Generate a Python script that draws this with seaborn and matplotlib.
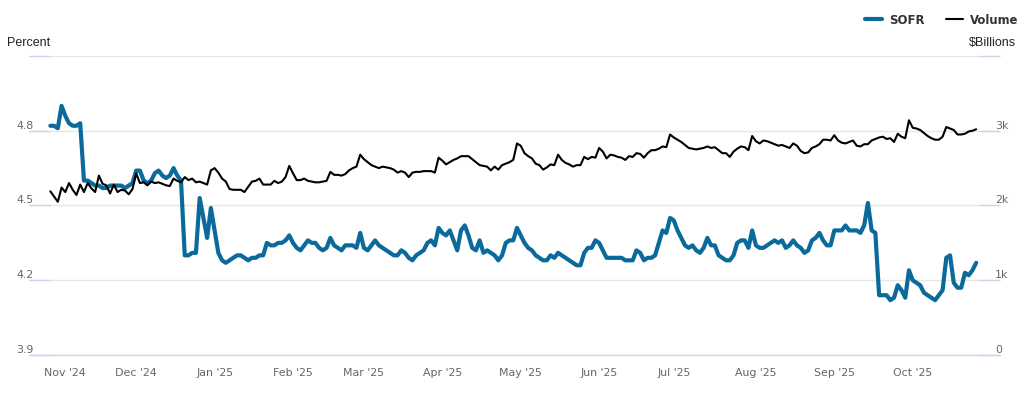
import numpy as np
import pandas as pd
import matplotlib
matplotlib.use('Agg')
import matplotlib.pyplot as plt
from matplotlib.lines import Line2D
import seaborn as sns

# Daily SOFR (percent) and volume ($ billions), one value per business day
start_date = '2024-10-28'
end_date = '2025-10-27'
holidays = ['2024-11-11', '2024-11-28', '2024-12-25', '2025-01-01', '2025-01-20',
            '2025-02-17', '2025-04-18', '2025-05-26', '2025-06-19', '2025-07-04',
            '2025-09-01', '2025-10-13']

sofr = [
    4.82, 4.82, 4.81, 4.90, 4.86, 4.83, 4.82, 4.82, 4.83, 4.60,
    4.60, 4.59, 4.58, 4.58, 4.57, 4.57, 4.58, 4.58, 4.58, 4.58,
    4.57, 4.58, 4.59, 4.64, 4.64, 4.60, 4.59, 4.60, 4.63, 4.64,
    4.62, 4.61, 4.62, 4.65, 4.62, 4.60, 4.30, 4.30, 4.31, 4.31,
    4.53, 4.45, 4.37, 4.49, 4.40, 4.31, 4.28, 4.27, 4.28, 4.29,
    4.30, 4.30, 4.29, 4.28, 4.29, 4.29, 4.30, 4.30, 4.35, 4.34,
    4.34, 4.35, 4.35, 4.36, 4.38, 4.35, 4.33, 4.32, 4.34, 4.36,
    4.35, 4.35, 4.33, 4.32, 4.33, 4.37, 4.34, 4.33, 4.32, 4.34,
    4.34, 4.34, 4.33, 4.39, 4.33, 4.32, 4.34, 4.36, 4.34, 4.33,
    4.32, 4.31, 4.30, 4.30, 4.32, 4.31, 4.29, 4.28, 4.30, 4.31,
    4.32, 4.35, 4.36, 4.34, 4.41, 4.39, 4.38, 4.40, 4.36, 4.32,
    4.40, 4.42, 4.38, 4.33, 4.32, 4.36, 4.31, 4.32, 4.31, 4.30,
    4.28, 4.30, 4.35, 4.36, 4.36, 4.41, 4.38, 4.35, 4.33, 4.32,
    4.30, 4.29, 4.28, 4.28, 4.30, 4.29, 4.31, 4.30, 4.29, 4.28,
    4.27, 4.26, 4.26, 4.31, 4.33, 4.33, 4.36, 4.35, 4.32, 4.29,
    4.29, 4.29, 4.29, 4.29, 4.28, 4.28, 4.28, 4.32, 4.31, 4.28,
    4.29, 4.29, 4.30, 4.35, 4.40, 4.39, 4.45, 4.44, 4.40, 4.37,
    4.34, 4.33, 4.34, 4.32, 4.31, 4.33, 4.37, 4.34, 4.34, 4.30,
    4.29, 4.28, 4.28, 4.30, 4.35, 4.36, 4.36, 4.33, 4.40, 4.34,
    4.33, 4.33, 4.34, 4.35, 4.36, 4.35, 4.36, 4.33, 4.34, 4.36,
    4.34, 4.33, 4.31, 4.32, 4.36, 4.37, 4.39, 4.36, 4.34, 4.34,
    4.40, 4.40, 4.40, 4.42, 4.40, 4.40, 4.40, 4.39, 4.42, 4.51,
    4.40, 4.39, 4.14, 4.14, 4.14, 4.12, 4.13, 4.18, 4.16, 4.13,
    4.24, 4.20, 4.19, 4.18, 4.15, 4.14, 4.13, 4.12, 4.14, 4.16,
    4.29, 4.30, 4.19, 4.17, 4.17, 4.23, 4.22, 4.24, 4.27,
]

volume = [
    2190, 2120, 2050, 2240, 2180, 2300, 2210, 2140, 2280, 2180,
    2300, 2230, 2180, 2400, 2290, 2270, 2160, 2280, 2180, 2210,
    2200, 2150, 2220, 2430, 2300, 2310, 2270, 2320, 2300, 2310,
    2290, 2270, 2260, 2360, 2330, 2310, 2380, 2340, 2360, 2310,
    2320, 2300, 2280, 2470, 2500, 2440, 2360, 2320, 2220, 2210,
    2210, 2210, 2180, 2250, 2320, 2330, 2360, 2280, 2280, 2280,
    2330, 2300, 2320, 2380, 2530, 2430, 2340, 2340, 2360, 2330,
    2320, 2310, 2310, 2320, 2330, 2450, 2410, 2410, 2400, 2420,
    2470, 2500, 2520, 2680, 2620, 2580, 2540, 2520, 2500, 2520,
    2510, 2500, 2480, 2440, 2460, 2440, 2380, 2440, 2450, 2450,
    2460, 2460, 2460, 2440, 2640, 2600, 2550, 2580, 2610, 2630,
    2660, 2660, 2660, 2620, 2580, 2540, 2530, 2520, 2470, 2520,
    2480, 2540, 2560, 2580, 2610, 2830, 2800, 2700, 2660, 2630,
    2560, 2540, 2480, 2510, 2550, 2540, 2680, 2610, 2570, 2550,
    2520, 2540, 2540, 2650, 2620, 2650, 2640, 2770, 2720, 2630,
    2680, 2670, 2650, 2640, 2610, 2660, 2650, 2700, 2690, 2640,
    2700, 2740, 2740, 2760, 2790, 2780, 2950, 2910, 2880, 2850,
    2810, 2770, 2760, 2750, 2760, 2770, 2790, 2770, 2780, 2740,
    2700, 2700, 2650, 2720, 2760, 2790, 2780, 2740, 2930, 2860,
    2830, 2870, 2860, 2840, 2820, 2800, 2810, 2790, 2770, 2830,
    2800, 2730, 2700, 2710, 2770, 2790, 2820, 2880, 2880, 2870,
    2940, 2870, 2840, 2830, 2850, 2870, 2800, 2790, 2820, 2820,
    2870, 2890, 2910, 2920, 2890, 2900, 2850, 2960, 2920, 2900,
    3140, 3040, 3030, 3010, 2970, 2930, 2900, 2880, 2880, 2920,
    3050, 3030, 3010, 2950, 2950, 2960, 2990, 3000, 3020,
]

left_ticks = [3.9, 4.2, 4.5, 4.8, 5.1]
left_labels = ['3.9', '4.2', '4.5', '4.8', '']
right_ticks = [0, 1000, 2000, 3000, 4000]
right_labels = ['0', '1k', '2k', '3k', '']

sofr_color = '#0b6a9c'
axis_blue = '#ccd6eb'
grid_gray = '#e6e6e6'
label_gray = '#666666'

dates = pd.bdate_range(start_date, end_date, freq='C', holidays=holidays)
df = pd.DataFrame({'pos': np.arange(len(dates)), 'date': dates,
                   'SOFR': sofr, 'Volume': volume})

# month ticks at first business day of each month
month_pos = [i for i in range(1, len(dates)) if dates[i].month != dates[i - 1].month]
month_labels = [dates[i].strftime("%b '%y") for i in month_pos]

sns.set_style('white')
plt.rcParams['font.family'] = ['DejaVu Sans']

fig = plt.figure(figsize=(10.24, 3.96), dpi=100)
ax = fig.add_axes([29 / 1024, 41 / 396, 970.5 / 1024, 299 / 396])
ax2 = ax.twinx()

sns.lineplot(data=df, x='pos', y='SOFR', ax=ax, color=sofr_color, linewidth=3.0,
             solid_joinstyle='round', legend=False)
sns.lineplot(data=df, x='pos', y='Volume', ax=ax2, color='black', linewidth=1.5,
             solid_joinstyle='round', legend=False)

ax.set_xlim(-5.72, 254.25)
ax.set_ylim(3.9, 5.1)
ax2.set_ylim(0, 4000)

ax.set_xlabel('')
ax.set_ylabel('')
ax2.set_ylabel('')

ax.set_yticks(left_ticks, left_labels)
ax2.set_yticks(right_ticks, right_labels)
ax.set_xticks(month_pos, month_labels)

ax.yaxis.grid(True, color=grid_gray, linewidth=1.0)
ax.xaxis.grid(False)
ax2.grid(False)
ax.set_axisbelow(True)

for s in ['left', 'right', 'top']:
    ax.spines[s].set_visible(False)
    ax2.spines[s].set_visible(False)
ax2.spines['bottom'].set_visible(False)
ax.spines['bottom'].set_color(axis_blue)
ax.spines['bottom'].set_linewidth(1.0)

ax.tick_params(axis='y', direction='in', length=15, width=1, color=axis_blue,
               pad=-3.6, labelsize=7.9, labelcolor=label_gray)
ax2.tick_params(axis='y', direction='in', length=15, width=1, color=axis_blue,
                pad=-3.4, labelsize=7.9, labelcolor=label_gray)
ax.tick_params(axis='x', direction='out', length=7.5, width=1, color=axis_blue,
               pad=1.5, labelsize=7.9, labelcolor=label_gray)
plt.setp(ax.get_yticklabels(), va='bottom')
plt.setp(ax2.get_yticklabels(), va='bottom')

fig.text(7 / 1024, 1 - 43 / 396, 'Percent', ha='left', va='center',
         fontsize=9, family='Liberation Sans', color='#222222')
fig.text(1016 / 1024, 1 - 43 / 396, '$Billions', ha='right', va='center',
         fontsize=9, family='Liberation Sans', color='#222222')

handles = [Line2D([], [], color=sofr_color, linewidth=3.0),
           Line2D([], [], color='black', linewidth=1.5)]
fig.legend(handles, ['SOFR', 'Volume'], ncol=2, loc='center right',
           bbox_to_anchor=(1018 / 1024, 1 - 20 / 396), frameon=False,
           prop={'weight': 'bold', 'size': 8.4}, labelcolor='#333333',
           handlelength=1.4, handletextpad=0.6, columnspacing=1.9,
           borderpad=0, borderaxespad=0)

plt.savefig('out.png', dpi=100)
